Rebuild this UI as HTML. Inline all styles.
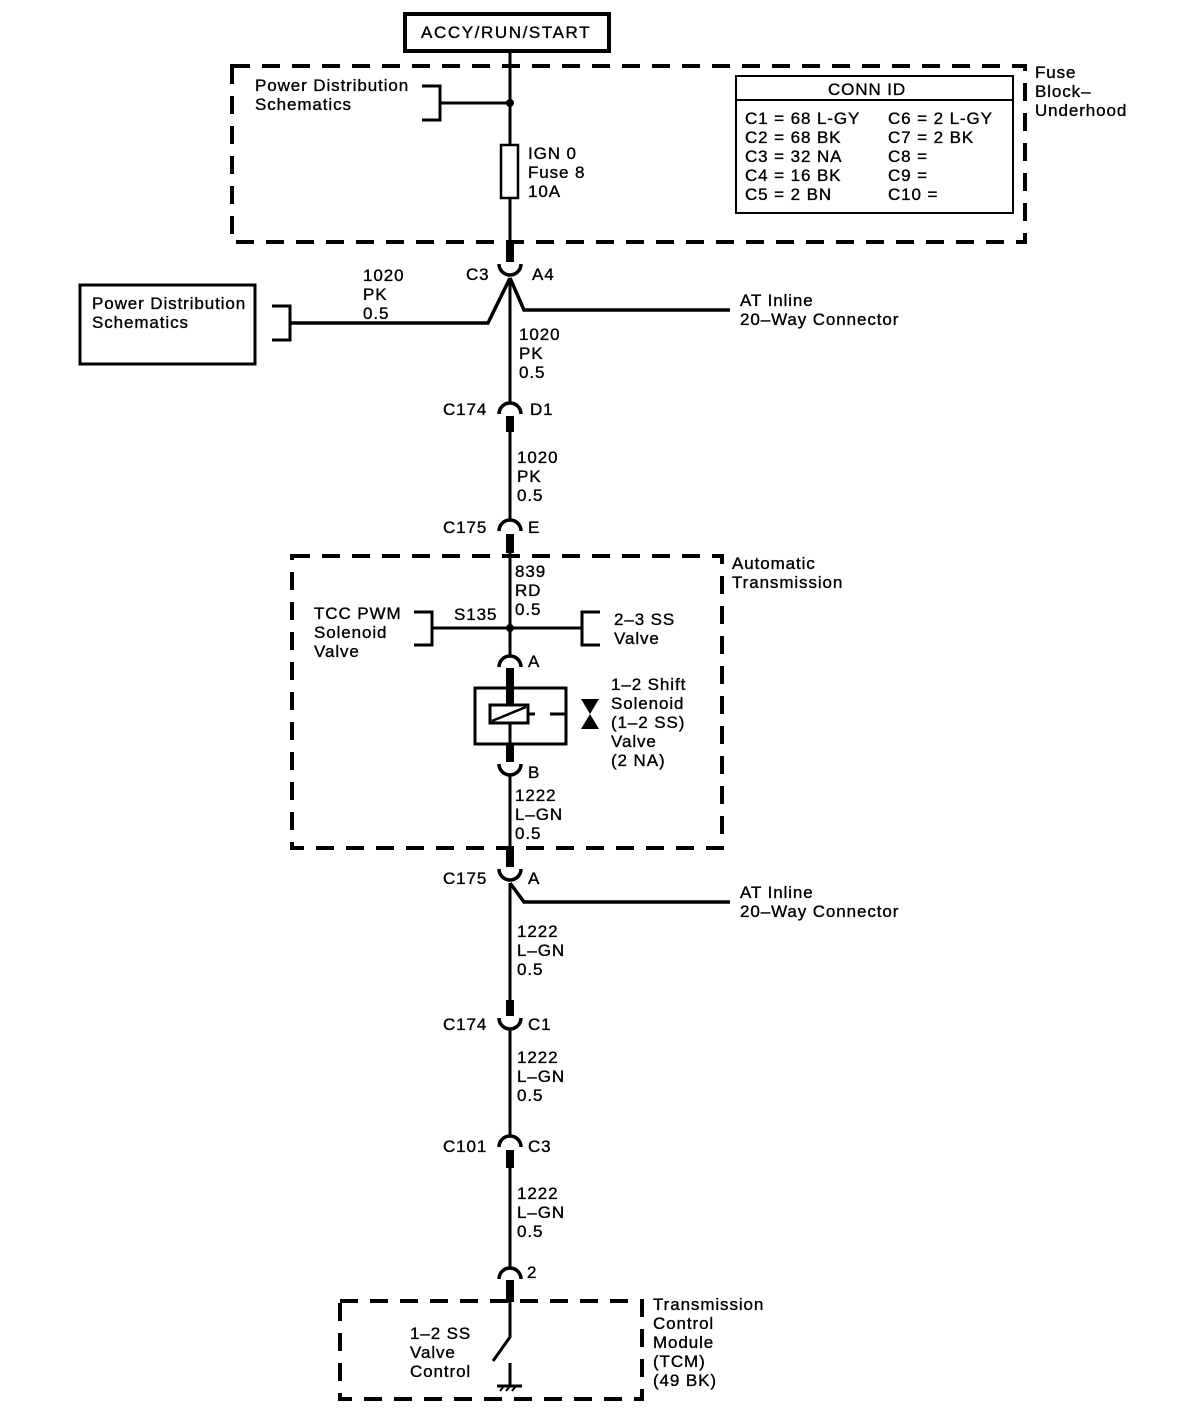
<!DOCTYPE html>
<html><head><meta charset="utf-8"><style>
html,body{margin:0;padding:0;background:#fff;}
svg{display:block;}
text{font-family:"Liberation Sans",sans-serif;font-size:17px;fill:#000;letter-spacing:0.9px;stroke:#000;stroke-width:0.35px;}
</style></head><body>
<svg width="1184" height="1418" viewBox="0 0 1184 1418" xmlns="http://www.w3.org/2000/svg">
<g fill="none" stroke="#000">
<rect x="405" y="14" width="204" height="37" stroke-width="4"/>
<rect x="232" y="66" width="793" height="176" stroke-width="4" stroke-dasharray="18,12"/>
<rect x="736" y="76" width="277" height="137" stroke-width="2"/>
<line x1="736" y1="100" x2="1013" y2="100" stroke-width="2"/>
<line x1="510" y1="51" x2="510" y2="245" stroke-width="3"/>
<line x1="440" y1="103" x2="510" y2="103" stroke-width="3"/>
<polyline points="422,86 440,86 440,120 422,120" stroke-width="3"/>
<rect x="501" y="145" width="17" height="53" stroke-width="2.5" fill="#fff"/>
<line x1="510" y1="243" x2="510" y2="262" stroke-width="8"/>
<path d="M499,264 A11,11 0 0 0 521,264" stroke-width="3.5"/>
<polyline points="510,278 488,323 290,323" stroke-width="3.5"/>
<polyline points="510,278 524,310 730,310" stroke-width="3.5"/>
<line x1="510" y1="278" x2="510" y2="402" stroke-width="3"/>
<polyline points="272,306 290,306 290,340 272,340" stroke-width="3"/>
<rect x="80" y="285" width="175" height="79" stroke-width="3"/>
<path d="M499,414 A11,11 0 0 1 521,414" stroke-width="3.5"/>
<line x1="510" y1="416" x2="510" y2="432" stroke-width="8"/>
<line x1="510" y1="430" x2="510" y2="520" stroke-width="3"/>
<path d="M499,531 A11,11 0 0 1 521,531" stroke-width="3.5"/>
<line x1="510" y1="534" x2="510" y2="553" stroke-width="8"/>
<rect x="292" y="556" width="430" height="292" stroke-width="4" stroke-dasharray="18,12"/>
<line x1="510" y1="552" x2="510" y2="656" stroke-width="3"/>
<line x1="432" y1="628" x2="582" y2="628" stroke-width="3"/>
<polyline points="414,612 432,612 432,645 414,645" stroke-width="3"/>
<polyline points="600,612 582,612 582,645 600,645" stroke-width="3"/>
<path d="M499,667 A11,11 0 0 1 521,667" stroke-width="3.5"/>
<line x1="510" y1="668" x2="510" y2="705" stroke-width="8"/>
<rect x="475" y="688" width="91" height="56" stroke-width="3"/>
<line x1="510" y1="700" x2="510" y2="750" stroke-width="3"/>
<rect x="490" y="705" width="38" height="18" stroke-width="3" fill="#fff"/>
<line x1="492" y1="721" x2="526" y2="707" stroke-width="2.5"/>
<line x1="528" y1="714" x2="535" y2="714" stroke-width="3"/>
<line x1="550" y1="714" x2="566" y2="714" stroke-width="3"/>
<line x1="510" y1="744" x2="510" y2="762" stroke-width="8"/>
<path d="M499,764 A11,11 0 0 0 521,764" stroke-width="3.5"/>
<line x1="510" y1="776" x2="510" y2="850" stroke-width="3"/>
<line x1="510" y1="848" x2="510" y2="867" stroke-width="8"/>
<path d="M499,869 A11,11 0 0 0 521,869" stroke-width="3.5"/>
<polyline points="510,883 524,902 730,902" stroke-width="3.5"/>
<line x1="510" y1="883" x2="510" y2="1002" stroke-width="3"/>
<line x1="510" y1="1000" x2="510" y2="1016" stroke-width="8"/>
<path d="M499,1018 A11,11 0 0 0 521,1018" stroke-width="3.5"/>
<line x1="510" y1="1030" x2="510" y2="1136" stroke-width="3"/>
<path d="M499,1147 A11,11 0 0 1 521,1147" stroke-width="3.5"/>
<line x1="510" y1="1150" x2="510" y2="1168" stroke-width="8"/>
<line x1="510" y1="1166" x2="510" y2="1268" stroke-width="3"/>
<path d="M499,1279 A11,11 0 0 1 521,1279" stroke-width="3.5"/>
<line x1="510" y1="1280" x2="510" y2="1302" stroke-width="8"/>
<rect x="340" y="1301" width="302" height="98" stroke-width="4" stroke-dasharray="18,12"/>
<polyline points="510,1300 510,1337 493,1361" stroke-width="3"/>
<line x1="510" y1="1363" x2="510" y2="1385" stroke-width="3"/>
<line x1="497" y1="1386" x2="522" y2="1386" stroke-width="3"/>
<line x1="500" y1="1391" x2="504" y2="1386" stroke-width="2"/>
<line x1="506" y1="1391" x2="510" y2="1386" stroke-width="2"/>
<line x1="512" y1="1391" x2="516" y2="1386" stroke-width="2"/>
</g>
<circle cx="510" cy="103" r="4"/>
<circle cx="510" cy="628" r="4"/>
<polygon points="581,699 599,699 590,714"/>
<polygon points="581,729 599,729 590,714"/>
<text x="421" y="38" style="letter-spacing:1.6px">ACCY/RUN/START</text>
<text x="255" y="91">Power Distribution</text>
<text x="255" y="110">Schematics</text>
<text x="528" y="159">IGN 0</text>
<text x="528" y="178">Fuse 8</text>
<text x="528" y="197">10A</text>
<text x="828" y="95">CONN ID</text>
<text x="745" y="124">C1 = 68 L-GY</text>
<text x="745" y="143">C2 = 68 BK</text>
<text x="745" y="162">C3 = 32 NA</text>
<text x="745" y="181">C4 = 16 BK</text>
<text x="745" y="200">C5 = 2 BN</text>
<text x="888" y="124">C6 = 2 L-GY</text>
<text x="888" y="143">C7 = 2 BK</text>
<text x="888" y="162">C8 =</text>
<text x="888" y="181">C9 =</text>
<text x="888" y="200">C10 =</text>
<text x="1035" y="78">Fuse</text>
<text x="1035" y="97">Block–</text>
<text x="1035" y="116">Underhood</text>
<text x="466" y="280">C3</text>
<text x="532" y="280">A4</text>
<text x="363" y="281">1020</text>
<text x="363" y="300">PK</text>
<text x="363" y="319">0.5</text>
<text x="92" y="309">Power Distribution</text>
<text x="92" y="328">Schematics</text>
<text x="740" y="306">AT Inline</text>
<text x="740" y="325">20–Way Connector</text>
<text x="519" y="340">1020</text>
<text x="519" y="359">PK</text>
<text x="519" y="378">0.5</text>
<text x="443" y="415">C174</text>
<text x="530" y="415">D1</text>
<text x="517" y="463">1020</text>
<text x="517" y="482">PK</text>
<text x="517" y="501">0.5</text>
<text x="443" y="533">C175</text>
<text x="528" y="533">E</text>
<text x="732" y="569">Automatic</text>
<text x="732" y="588">Transmission</text>
<text x="515" y="577">839</text>
<text x="515" y="596">RD</text>
<text x="515" y="615">0.5</text>
<text x="454" y="620">S135</text>
<text x="314" y="619">TCC PWM</text>
<text x="314" y="638">Solenoid</text>
<text x="314" y="657">Valve</text>
<text x="614" y="625">2–3 SS</text>
<text x="614" y="644">Valve</text>
<text x="528" y="667">A</text>
<text x="611" y="690">1–2 Shift</text>
<text x="611" y="709">Solenoid</text>
<text x="611" y="728">(1–2 SS)</text>
<text x="611" y="747">Valve</text>
<text x="611" y="766">(2 NA)</text>
<text x="528" y="778">B</text>
<text x="515" y="801">1222</text>
<text x="515" y="820">L–GN</text>
<text x="515" y="839">0.5</text>
<text x="443" y="884">C175</text>
<text x="528" y="884">A</text>
<text x="740" y="898">AT Inline</text>
<text x="740" y="917">20–Way Connector</text>
<text x="517" y="937">1222</text>
<text x="517" y="956">L–GN</text>
<text x="517" y="975">0.5</text>
<text x="443" y="1030">C174</text>
<text x="528" y="1030">C1</text>
<text x="517" y="1063">1222</text>
<text x="517" y="1082">L–GN</text>
<text x="517" y="1101">0.5</text>
<text x="443" y="1152">C101</text>
<text x="528" y="1152">C3</text>
<text x="517" y="1199">1222</text>
<text x="517" y="1218">L–GN</text>
<text x="517" y="1237">0.5</text>
<text x="527" y="1278">2</text>
<text x="410" y="1339">1–2 SS</text>
<text x="410" y="1358">Valve</text>
<text x="410" y="1377">Control</text>
<text x="653" y="1310">Transmission</text>
<text x="653" y="1329">Control</text>
<text x="653" y="1348">Module</text>
<text x="653" y="1367">(TCM)</text>
<text x="653" y="1386">(49 BK)</text>
</svg>
</body></html>
